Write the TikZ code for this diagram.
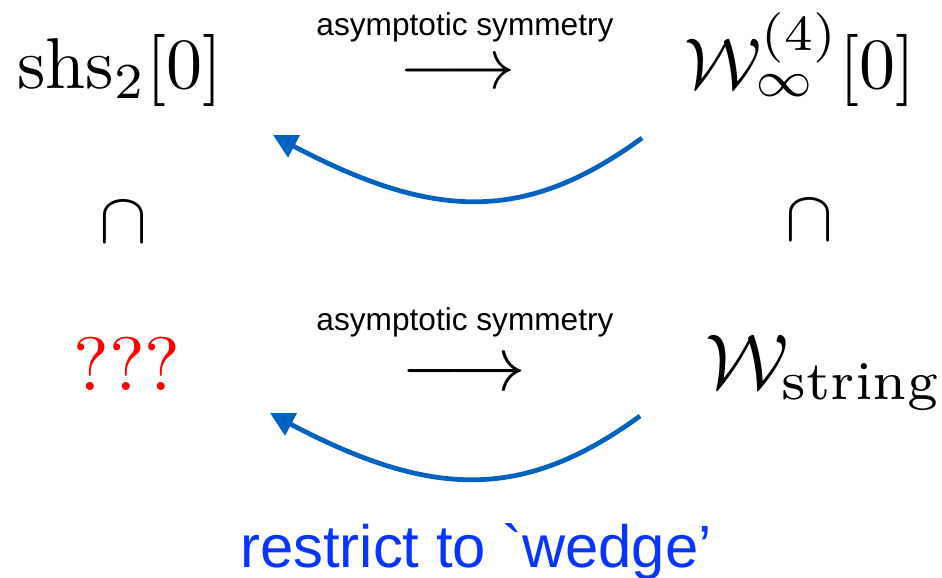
\documentclass[tikz,border=0pt]{standalone}
\usepackage{amsmath}
\usepackage{amssymb}
\usepackage{fontspec}
\newfontfamily\helv{Liberation Sans}
\usetikzlibrary{arrows.meta,bending}
\definecolor{arcblue}{RGB}{0,98,192}
\definecolor{capblue}{RGB}{8,52,255}
\tikzset{
  alg/.style={anchor=base,inner sep=0pt,scale=4.1,transform shape},
  algb/.style={alg,scale=1.08},
  qq/.style={alg,scale=1.05,text=red},
  tag/.style={anchor=base,inner sep=0pt,font=\helv\fontsize{18}{22}\selectfont},
  rstr/.style={anchor=base,inner sep=0pt,text=capblue,font=\helv\fontsize{34}{40}\selectfont},
  back/.style={-{Triangle[length=4.8mm,width=4.8mm,bend]},draw=arcblue,line width=2.7pt},
}

\begin{document}
\begin{tikzpicture}
\useasboundingbox (0,0) rectangle (18.84,-11.54);
% top row
\node[alg] (shs) at (2.40,-1.76) {$\mathrm{shs}_2[0]$};
\node[alg] (winf) at (16.00,-1.76) {$\mathcal{W}_\infty^{(4)}[0]$};
\node[alg] (ta) at (9.16,-1.76) {$\longrightarrow$};
\node[tag] (tl) at (9.30,-0.70) {asymptotic symmetry};
% inclusions
\node[alg] (c1) at (2.48,-4.84) {$\cap$};
\node[alg] (c2) at (16.20,-4.80) {$\cap$};
% bottom row
\node[qq] (qm) at (2.54,-7.80) {???};
\node[algb] (wstr) at (16.47,-7.76) {$\mathcal{W}_{\mathrm{string}}$};
\node[algb] (ba) at (9.28,-7.80) {$\longrightarrow$};
\node[tag] (bl) at (9.30,-6.60) {asymptotic symmetry};
\node[rstr] (rw) at (9.52,-11.34) {restrict to \textasciigrave wedge’};
% the way back
\coordinate (s1) at (12.84,-2.76); \coordinate (e1) at (5.46,-2.70);
\coordinate (s2) at (12.80,-8.32); \coordinate (e2) at (5.40,-8.26);
\draw[back] (s1) .. controls (10.40,-4.54) and (8.52,-4.40) .. (e1);
\draw[back] (s2) .. controls (10.36,-10.10) and (8.46,-9.96) .. (e2);
\end{tikzpicture}
\end{document}
